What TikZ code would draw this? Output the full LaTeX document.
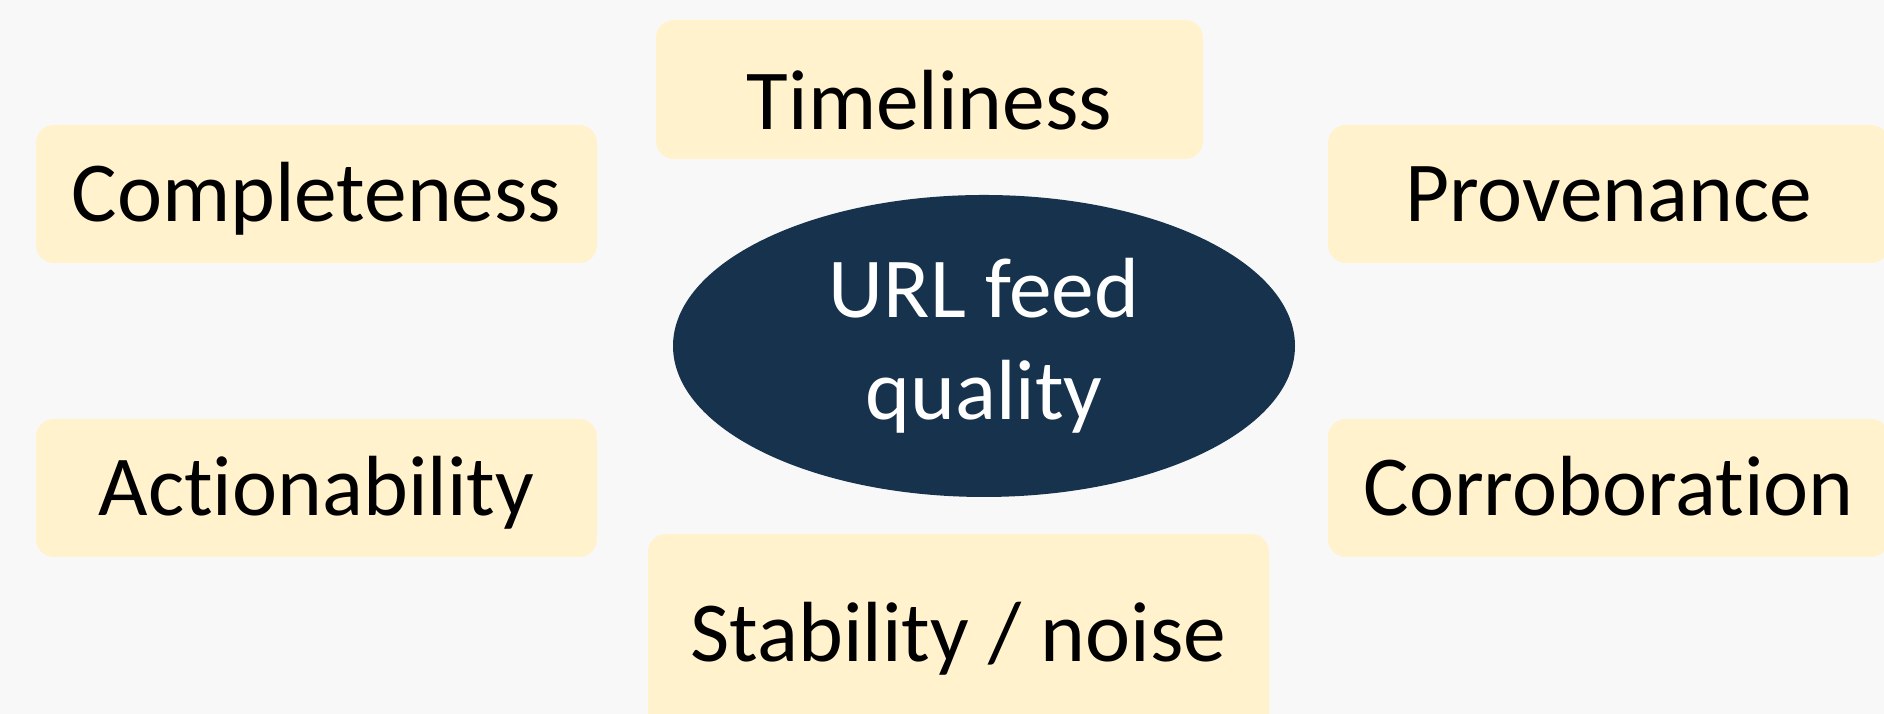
\documentclass[tikz,border=0pt]{standalone}
\usepackage{fontspec}
\setmainfont{Carlito}[RawFeature=-liga]
\usetikzlibrary{shapes.geometric}
\definecolor{fond}{HTML}{F8F8F8}
\definecolor{jaune}{HTML}{FFF2CC}
\definecolor{marine}{HTML}{17324D}
\begin{document}
\begin{tikzpicture}[
    critere/.style={fill=jaune, rounded corners=0.18cm, inner sep=0pt,
        minimum width=5.61cm, minimum height=1.38cm,
        font=\fontsize{24.3}{29}\selectfont, text height=0.55cm, text depth=0pt},
    centre/.style={ellipse, fill=marine, text=white, inner sep=0pt,
        minimum width=6.22cm, minimum height=3.02cm, align=center,
        font=\fontsize{24.3}{29}\selectfont}
]
                % Fond et cadre
                \useasboundingbox (0, 0) rectangle (18.84, 7.14);
                \clip (0, 0) rectangle (18.84, 7.14);
                \fill[fond] (0, 0) rectangle (18.84, 7.14);

                % Noeud central
                \node[centre] (qualite) at (9.84, 3.68) {URL feed\\quality};

                % Critères autour du noeud central
                \node[critere, minimum width=5.47cm, minimum height=1.39cm, text height=0.81cm] (time) at (9.295, 6.245) {Timeliness};
                \node[critere] (compl) at (3.165, 5.20) {Completeness};
                \node[critere] (prov) at (16.085, 5.20) {Provenance};
                \node[critere] (action) at (3.165, 2.26) {Actionability};
                \node[critere] (corr) at (16.085, 2.26) {Corroboration};
                \node[critere, minimum width=6.21cm, minimum height=2.0cm] (stab) at (9.585, 0.80) {Stability / noise};
            \end{tikzpicture}
\end{document}
